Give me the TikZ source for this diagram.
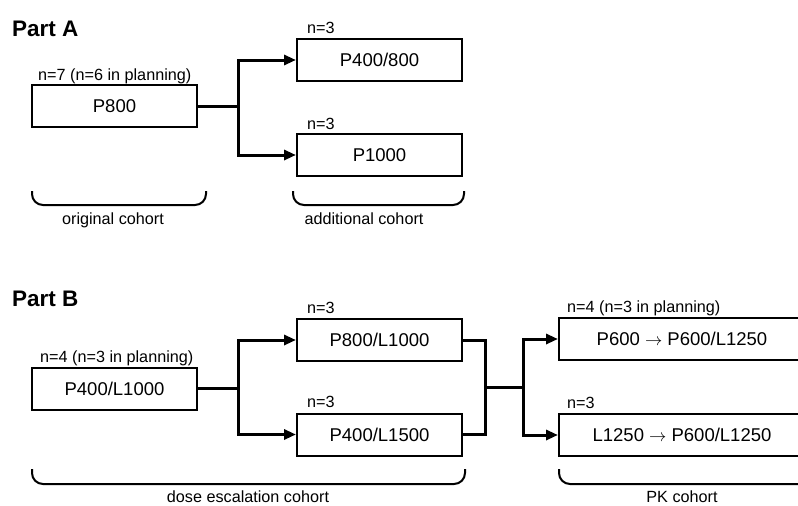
\documentclass[tikz,border=0pt]{standalone}
\usepackage{fontspec}
\setmainfont{Liberation Sans}
\usetikzlibrary{arrows.meta,calc}
\begin{document}
\begin{tikzpicture}[x=1pt,y=-1pt,
  box/.style={draw,line width=2pt,minimum width=165pt,minimum height=42pt,inner sep=0pt,font=\fontsize{18.5}{20}\selectfont},
  widebox/.style={box,minimum width=246pt},
  toplab/.style={anchor=base west,inner sep=0pt,font=\fontsize{16.2}{18}\selectfont},
  botlab/.style={anchor=base,inner sep=0pt,font=\fontsize{16.2}{18}\selectfont},
  part/.style={anchor=base west,inner sep=0pt,font=\fontsize{22.5}{25}\selectfont\bfseries},
  conn/.style={line width=3pt},
  arr/.style={conn,-{Triangle[length=12pt,width=10pt]}},
  brace/.style={line width=2pt,rounded corners=11pt}
]
\useasboundingbox (0,0) rectangle (798,506);
\clip (0,0) rectangle (798,506);

% Part A
\node[part] (pa) at (12,36) {Part A};
\node[box] (p800) at (114.5,106) {P800};
\node[box] (p400800) at (379.5,60) {P400/800};
\node[box] (p1000) at (379.5,155) {P1000};
\node[toplab] (l1) at (38,80) {n=7 (n=6 in planning)};
\node[toplab] (l2) at (307,34) {n=3};
\node[toplab] (l3) at (307,129) {n=3};
\draw[conn] (p800.east) -- ++(40,0) coordinate (ja);
\draw[arr] (ja) |- (p400800.west);
\draw[arr] (ja) |- (p1000.west);
\coordinate (b1a) at (32,191);
\coordinate (b1b) at (206,191);
\draw[brace] (b1a) -- ++(0,14) -| (b1b);
\node[botlab] (c1) at (113,224) {original cohort};
\coordinate (b2a) at (293,191);
\coordinate (b2b) at (464,191);
\draw[brace] (b2a) -- ++(0,14) -| (b2b);
\node[botlab] (c2) at (364,224) {additional cohort};

% Part B
\node[part] (pb) at (12,306) {Part B};
\node[box] (p400l1000) at (114.5,388.5) {P400/L1000};
\node[box] (p800l1000) at (379.5,340) {P800/L1000};
\node[box] (p400l1500) at (379.5,434.5) {P400/L1500};
\node[widebox] (p600) at (682,339) {P600 $\rightarrow$ P600/L1250};
\node[widebox] (l1250) at (682,435) {L1250 $\rightarrow$ P600/L1250};
\node[toplab] (l4) at (40,362) {n=4 (n=3 in planning)};
\node[toplab] (l5) at (307,313) {n=3};
\node[toplab] (l6) at (307,407) {n=3};
\node[toplab] (l7) at (567,312) {n=4 (n=3 in planning)};
\node[toplab] (l8) at (567,408) {n=3};
\draw[conn] (p400l1000.east) -- ++(40,0) coordinate (jb);
\draw[arr] (jb) |- (p800l1000.west);
\draw[arr] (jb) |- (p400l1500.west);
\draw[conn] (p800l1000.east) -- ++(22,0) coordinate (jc) |- (p400l1500.east);
\coordinate (jm) at ($(jc)!0.5!(jc |- p400l1500.east)$);
\draw[conn] (jm) -- ++(38,0) coordinate (jd);
\draw[arr] (jd) |- (p600.west);
\draw[arr] (jd) |- (l1250.west);
\coordinate (b3a) at (32,469);
\coordinate (b3b) at (465,469);
\draw[brace] (b3a) -- ++(0,15) -| (b3b);
\node[botlab] (c3) at (248,502) {dose escalation cohort};
\coordinate (b4a) at (559,469);
\coordinate (b4b) at (810,469);
\draw[brace] (b4a) -- ++(0,15) -| (b4b);
\node[botlab] (c4) at (682,502) {PK cohort};
\end{tikzpicture}
\end{document}
